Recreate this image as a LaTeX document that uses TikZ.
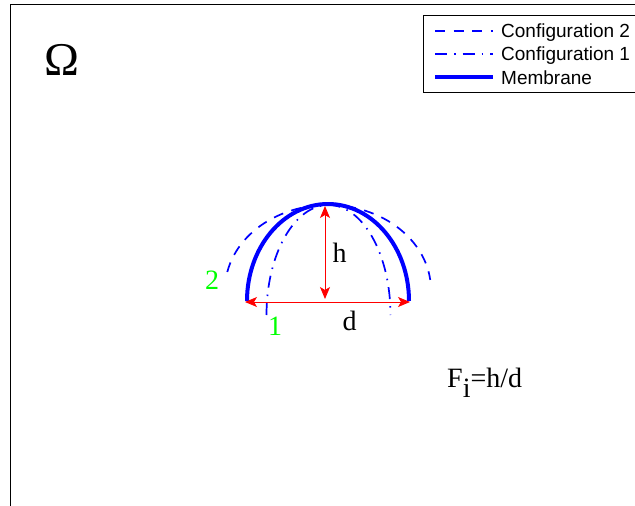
\documentclass[tikz,border=0pt]{standalone}
\usepackage{fontspec}
\setmainfont{Liberation Serif}
\newfontfamily\legendfont{Liberation Sans}
\usetikzlibrary{arrows.meta,positioning}
\definecolor{curveblue}{RGB}{0,0,255}
\definecolor{arrowred}{RGB}{255,0,0}
\definecolor{labelgreen}{RGB}{0,255,0}

\begin{document}
\begin{tikzpicture}[x=1pt, y=1pt,
    membrane/.style={draw=curveblue, line width=4pt},
    configtwo/.style={draw=curveblue, line width=1.7pt, dash pattern=on 10pt off 8.5pt},
    configone/.style={draw=curveblue, line width=1.7pt, dash pattern=on 12pt off 7pt on 1.5pt off 7pt},
    dimarrow/.style={{Stealth[length=12pt,width=10pt,inset=3pt]}-{Stealth[length=12pt,width=10pt,inset=3pt]}, arrowred, line width=0.9pt},
    dimlabel/.style={inner sep=0pt, anchor=base, font=\fontsize{28}{30}\selectfont},
    entry/.style={inner sep=0pt, anchor=base west, font=\legendfont\fontsize{19}{21}\selectfont}
  ]
    \useasboundingbox (0,0) rectangle (635,-506);
    \clip (0,0) rectangle (635,-506);

    % Frame
    \draw[line width=1pt] (10.5,-510) -- (10.5,-4.5) -- (640,-4.5);
    \node[inner sep=0pt, anchor=base, font=\fontsize{47}{50}\selectfont] (domain) at (62,-75) {Ω};

    % Shapes
    \draw[membrane] (247,-301) arc[start angle=180, end angle=0, x radius=81pt, y radius=97pt];
    \draw[configone] (266.5,-315) arc[start angle=180, end angle=0, x radius=62pt, y radius=110pt];
    \draw[configtwo] (227.3,-272) arc[start angle=167.8, end angle=6.8, x radius=103pt, y radius=85pt];

    % Height and width
    \coordinate (htop) at (325,-206);
    \coordinate (hbot) at (325,-299);
    \coordinate (dleft) at (245,-302);
    \coordinate (dright) at (410,-302);
    \draw[dimarrow] (htop) -- (hbot);
    \draw[dimarrow] (dleft) -- (dright);

    \node[dimlabel] (hlabel) at (339.5,-262) {h};
    \node[dimlabel] (dlabel) at (349.5,-330) {d};
    \node[dimlabel, labelgreen] (twolabel) at (212,-289) {2};
    \node[dimlabel, labelgreen] (onelabel) at (275,-335) {1};
    \node[dimlabel, anchor=base west] (ratio) at (447,-387) {F\raisebox{-10pt}{i}=h/d};

    % Legend
    \node[draw, line width=0.8pt, inner sep=0pt, minimum width=217pt, minimum height=77pt, anchor=north west] (legend) at (423,-15) {};
    \draw[configtwo] (435,-31) -- (493,-31);
    \draw[configone] (435,-54) -- (493,-54);
    \draw[draw=curveblue, line width=3.3pt] (435,-77) -- (493,-77);
    \node[entry] (cfgtwo) at (501,-37) {Configuration 2};
    \node[entry] (cfgone) at (501,-60.5) {Configuration 1};
    \node[entry] (memb) at (501,-84) {Membrane};
  \end{tikzpicture}
\end{document}
